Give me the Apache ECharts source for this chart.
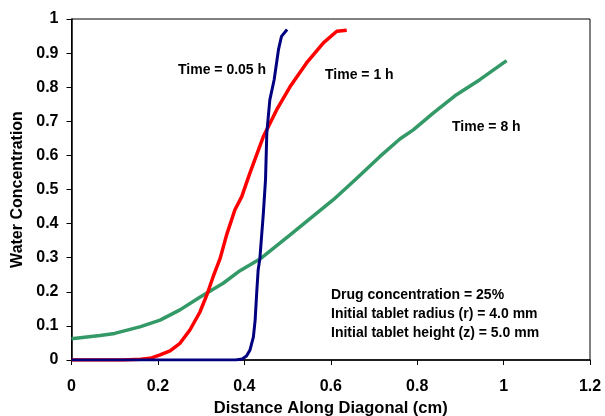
<!DOCTYPE html>
<html><head><meta charset="utf-8">
<script src="https://cdn.jsdelivr.net/npm/echarts@6/dist/echarts.min.js"></script>
<style>html,body{margin:0;padding:0;background:#fff}#c{width:605px;height:416px}</style>
</head><body><div id="c"></div>
<script>
const seriesNames = ['Time = 0.05 h', 'Time = 1 h', 'Time = 8 h'];
const blueData = [[0,0],[0.38,0],[0.395,0.003],[0.405,0.012],[0.413,0.029],[0.421,0.068],[0.425,0.117],[0.429,0.205],[0.432,0.264],[0.436,0.298],[0.444,0.43],[0.449,0.528],[0.452,0.665],[0.459,0.763],[0.469,0.822],[0.479,0.91],[0.486,0.949],[0.499,0.969]];
const redData = [[0,0],[0.12,0],[0.16,0.002],[0.182,0.005],[0.205,0.015],[0.228,0.027],[0.251,0.049],[0.274,0.088],[0.297,0.14],[0.313,0.19],[0.328,0.245],[0.344,0.298],[0.359,0.367],[0.378,0.44],[0.394,0.479],[0.412,0.545],[0.444,0.655],[0.475,0.734],[0.506,0.802],[0.544,0.871],[0.583,0.93],[0.614,0.964],[0.637,0.967]];
const greenData = [[0,0.062],[0.066,0.072],[0.1,0.078],[0.16,0.098],[0.205,0.117],[0.251,0.147],[0.297,0.184],[0.351,0.225],[0.39,0.262],[0.436,0.296],[0.506,0.367],[0.567,0.43],[0.606,0.47],[0.656,0.528],[0.714,0.597],[0.76,0.648],[0.791,0.675],[0.837,0.724],[0.891,0.778],[0.945,0.822],[1.007,0.878]];
const infoLines = ['Drug concentration = 25%', 'Initial tablet radius (r) = 4.0 mm', 'Initial tablet height (z) = 5.0 mm'];
const xTitle = 'Distance Along Diagonal (cm)';
const yTitle = 'Water Concentration';

const FONT = '"Liberation Sans", Arial, sans-serif';
const chart = echarts.init(document.getElementById('c'), null, {renderer:'canvas'});
const txt = (x, y, t) => ({type:'text', left:x, top:y, style:{text:t, fill:'#000', font:'bold 14px ' + FONT}});
chart.setOption({
  animation:false,
  backgroundColor:'#fff',
  grid:{left:71.5, right:15, top:19, bottom:56, show:true, borderColor:'#000', borderWidth:1,
    containLabel:false, outerBoundsMode:'none'},
  xAxis:{type:'value', min:0, max:1.2, interval:0.2, name:xTitle, nameLocation:'middle', nameGap:40,
    nameTextStyle:{fontFamily:FONT, fontWeight:'bold', fontSize:16.5, color:'#000'},
    axisLine:{lineStyle:{color:'#000', width:1.5}}, axisTick:{show:true, length:5, lineStyle:{color:'#000'}},
    axisLabel:{fontFamily:FONT, fontWeight:'bold', fontSize:16, color:'#000', margin:19}, splitLine:{show:false}},
  yAxis:{type:'value', min:0, max:1, interval:0.1, name:yTitle, nameLocation:'middle', nameGap:45,
    nameTextStyle:{fontFamily:FONT, fontWeight:'bold', fontSize:16, color:'#000'},
    axisLine:{show:true, lineStyle:{color:'#000', width:1.5}}, axisTick:{show:true, length:5, lineStyle:{color:'#000'}},
    axisLabel:{fontFamily:FONT, fontWeight:'bold', fontSize:16, color:'#000', margin:13,
      formatter:v=>String(Math.round(v*10)/10)}, splitLine:{show:false}},
  series:[
    {name:seriesNames[2], type:'line', data:greenData, showSymbol:false, lineStyle:{color:'#339966', width:3.5}, z:2},
    {name:seriesNames[1], type:'line', data:redData, showSymbol:false, lineStyle:{color:'#FF0000', width:3.5}, z:3},
    {name:seriesNames[0], type:'line', data:blueData, showSymbol:false, lineStyle:{color:'#000080', width:3}, z:4}
  ],
  graphic:[
    txt(178, 63, seriesNames[0]),
    txt(325, 68, seriesNames[1]),
    txt(452, 120, seriesNames[2]),
    txt(331, 288, infoLines[0]),
    txt(331, 307, infoLines[1]),
    txt(331, 326, infoLines[2])
  ]
});
</script></body></html>
